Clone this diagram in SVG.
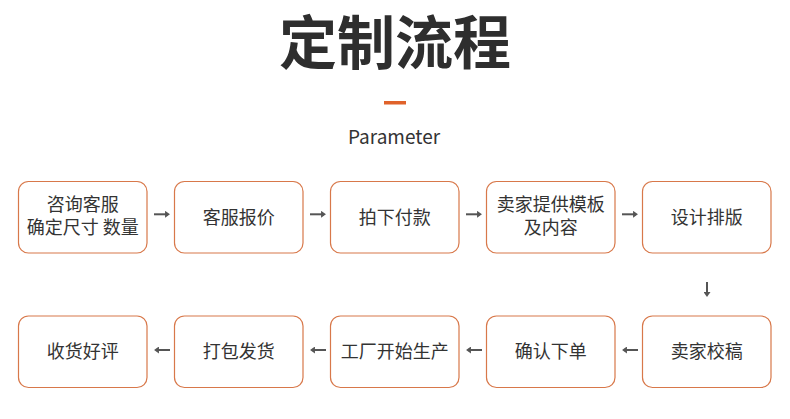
<svg xmlns="http://www.w3.org/2000/svg" width="790" height="419" viewBox="0 0 790 419">
<style>
.bg{fill:#ffffff}
.box{fill:#ffffff;stroke:#d8784a;stroke-width:1.2}
.t{font-family:"Noto Sans CJK SC","Noto Sans",sans-serif;font-size:18px;fill:#333333;text-anchor:middle}
.title{font-family:"Noto Sans CJK SC",sans-serif;font-size:58px;font-weight:700;fill:#2e2e2e;text-anchor:middle}
.sub{font-family:"Noto Sans CJK SC","Noto Sans",sans-serif;font-size:19px;fill:#333333;text-anchor:middle}
.arr{fill:none;stroke:#555555;stroke-width:2;marker-end:url(#ah)}
</style>
<defs>
<marker id="ah" viewBox="0 0 7 10" refX="4.2" refY="5" markerWidth="2.5" markerHeight="3.5" orient="auto" markerUnits="strokeWidth">
<path d="M0,0 L7,5 L0,10 Z" fill="#555555"/>
</marker>
</defs>
<rect class="bg" x="0" y="0" width="790" height="419"/>
<g id="header">
<text class="title" x="395" y="64">定制流程</text>
<rect x="384" y="101" width="22" height="3.5" fill="#e0622a"/>
<text class="sub" x="394" y="144">Parameter</text>
</g>
<g id="connectors">
<path class="arr" d="M154,214.3 H168"/>
<path class="arr" d="M310,214.3 H324"/>
<path class="arr" d="M466,214.3 H480"/>
<path class="arr" d="M622,214.3 H636"/>
<path class="arr" d="M707,282 V295"/>
<path class="arr" d="M638,350 H624"/>
<path class="arr" d="M482,350 H468"/>
<path class="arr" d="M326,350 H312"/>
<path class="arr" d="M170,350 H156"/>
</g>
<g id="n1"><rect class="box" x="18.5" y="181.5" width="128.5" height="71.5" rx="10"/><text class="t" x="82.75" y="211">咨询客服</text><text class="t" x="82.75" y="234">确定尺寸 数量</text></g>
<g id="n2"><rect class="box" x="174.5" y="181.5" width="128.5" height="71.5" rx="10"/><text class="t" x="238.75" y="223.5">客服报价</text></g>
<g id="n3"><rect class="box" x="330.5" y="181.5" width="128.5" height="71.5" rx="10"/><text class="t" x="394.75" y="223.5">拍下付款</text></g>
<g id="n4"><rect class="box" x="486.5" y="181.5" width="128.5" height="71.5" rx="10"/><text class="t" x="550.75" y="211">卖家提供模板</text><text class="t" x="550.75" y="234">及内容</text></g>
<g id="n5"><rect class="box" x="642.5" y="181.5" width="128.5" height="71.5" rx="10"/><text class="t" x="706.75" y="223.5">设计排版</text></g>
<g id="n6"><rect class="box" x="642.5" y="316" width="128.5" height="71.5" rx="10"/><text class="t" x="706.75" y="358">卖家校稿</text></g>
<g id="n7"><rect class="box" x="486.5" y="316" width="128.5" height="71.5" rx="10"/><text class="t" x="550.75" y="358">确认下单</text></g>
<g id="n8"><rect class="box" x="330.5" y="316" width="128.5" height="71.5" rx="10"/><text class="t" x="394.75" y="358">工厂开始生产</text></g>
<g id="n9"><rect class="box" x="174.5" y="316" width="128.5" height="71.5" rx="10"/><text class="t" x="238.75" y="358">打包发货</text></g>
<g id="n10"><rect class="box" x="18.5" y="316" width="128.5" height="71.5" rx="10"/><text class="t" x="82.75" y="358">收货好评</text></g>
</svg>
